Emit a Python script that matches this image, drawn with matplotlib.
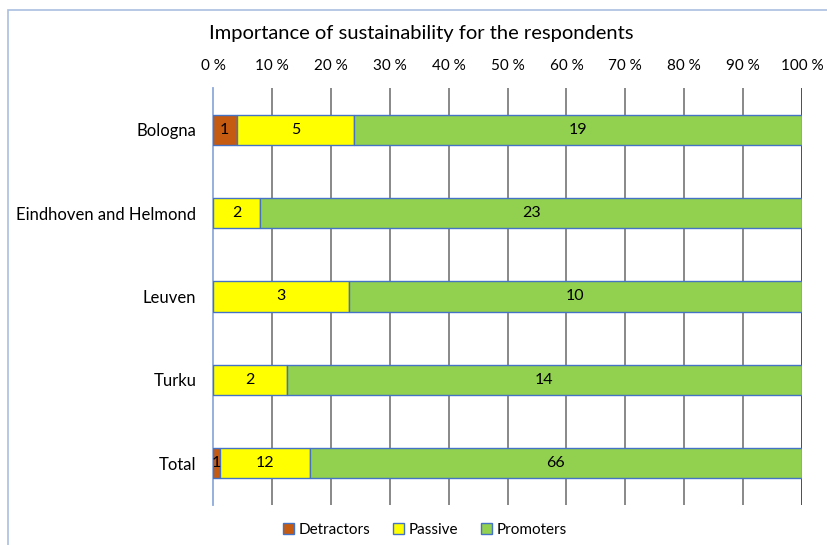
import numpy as np
import matplotlib.pyplot as plt
from matplotlib.patches import Rectangle

plt.rcParams['font.family'] = ['Lato', 'DejaVu Sans']

CITIES = ["Bologna", "Eindhoven and Helmond", "Leuven", "Turku", "Total"]
DETRACTORS = [1, 0, 0, 0, 1]
PASSIVE = [5, 2, 3, 2, 12]
PROMOTERS = [19, 23, 10, 14, 66]
SERIES = ["Detractors", "Passive", "Promoters"]
COLORS = ["#C55A11", "#FFFF00", "#92D050"]
TICKS = [0, 10, 20, 30, 40, 50, 60, 70, 80, 90, 100]

counts = np.array([DETRACTORS, PASSIVE, PROMOTERS], dtype=float)
shares = counts / counts.sum(axis=0) * 100

fig = plt.figure(figsize=(8.27, 5.45), dpi=100)
ax = fig.add_axes([213 / 827, 1 - 505 / 545, (802 - 213) / 827, (505 - 88) / 545])

# chart-area border (partly cut off at right and bottom)
fig.patches.append(Rectangle((8 / 827, -0.1), 1.2, 1 - 10 / 545 + 0.1,
                             transform=fig.transFigure, fill=False,
                             edgecolor="#A9BFE0", linewidth=1.2))

y = np.arange(len(CITIES))
left = np.zeros(len(CITIES))
for k in range(3):
    ax.barh(y, shares[k], left=left, height=0.36, color=COLORS[k],
            edgecolor="#4472C4", linewidth=1.0, label=SERIES[k], zorder=3)
    for i in range(len(CITIES)):
        if counts[k, i] > 0:
            ax.text(left[i] + shares[k, i] / 2, y[i], f"{int(counts[k, i])}",
                    ha="center", va="center", fontsize=11.5, color="black", zorder=4)
    left += shares[k]

ax.set_xlim(0, 100)
ax.set_ylim(len(CITIES) - 0.5, -0.5)
ax.set_xticks(TICKS)
ax.set_xticklabels([f"{t} %" for t in TICKS])
ax.xaxis.tick_top()
ax.tick_params(axis="x", length=0, pad=11, labelsize=11)
ax.tick_params(axis="y", length=0, pad=12, labelsize=12)
ax.set_yticks(y)
ax.set_yticklabels(CITIES)

for t in TICKS[1:-1]:
    ax.axvline(t, color="#7F7F7F", linewidth=1.3, zorder=1)
ax.axvline(100, color="#404040", linewidth=1.3, zorder=1)
for side in ["top", "right", "bottom"]:
    ax.spines[side].set_visible(False)
ax.spines["left"].set_color("#8EA9DB")
ax.spines["left"].set_linewidth(1.3)

fig.text(421 / 827, 1 - 33 / 545, "Importance of sustainability for the respondents",
         ha="center", va="center", fontsize=14.5)

handles, labels = ax.get_legend_handles_labels()
fig.legend(handles, labels, loc="center", bbox_to_anchor=(425 / 827, 1 - 530 / 545),
           ncol=3, frameon=False, fontsize=11, handlelength=0.7, handleheight=0.7,
           handletextpad=0.3, columnspacing=1.5)

fig.savefig("out.png", dpi=100, facecolor="white")
